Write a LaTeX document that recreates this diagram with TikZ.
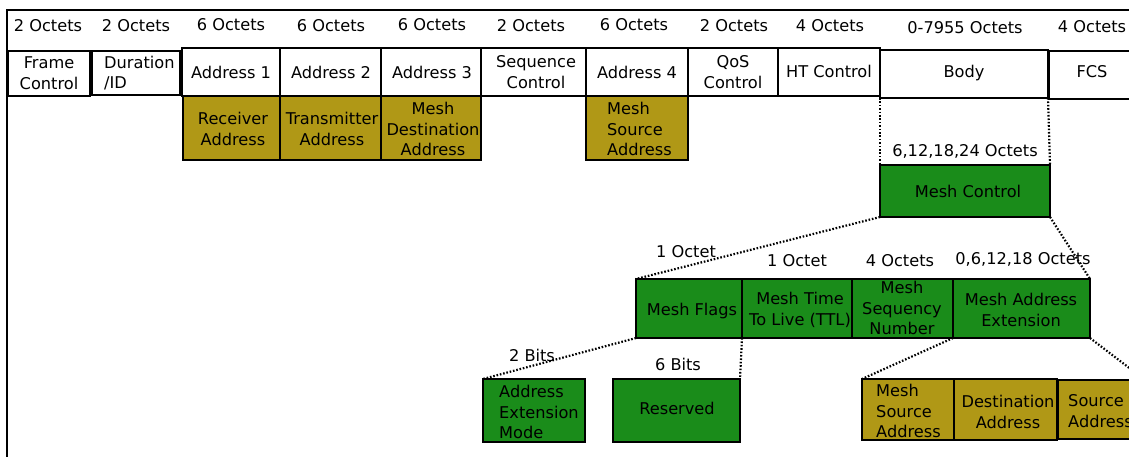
\documentclass[tikz,border=0pt]{standalone}
\usepackage{fontspec}
\setmainfont{DejaVu Sans}
\definecolor{goldfield}{RGB}{176,152,22}
\definecolor{greenfield}{RGB}{26,140,26}
\tikzset{
  field/.style={draw=black, line width=2.8pt, inner sep=0pt, outer sep=0pt, fill=white},
  goldbox/.style={field, fill=goldfield},
  greenbox/.style={field, fill=greenfield},
  txt/.style={font=\fontsize{16.2}{20.5}\selectfont, inner sep=0pt, align=center},
  lefttxt/.style={txt, align=left, anchor=west},
  expand/.style={line width=2.2pt, dash pattern=on 1.6pt off 1.8pt},
}
\begin{document}
\begin{tikzpicture}[x=1pt,y=-1pt]
\useasboundingbox (0,0) rectangle (1129,456);
\clip (0,0) rectangle (1129,456);

% outer frame
\coordinate (ftl) at (7,10);
\coordinate (ftr) at (1135,10);
\coordinate (fbl) at (7,460);
\draw[line width=2.2pt] (ftr) -- (ftl) -- (fbl);

% field sizes
\node[txt] (s1) at (48,26) {2 Octets};
\node[txt] (s2) at (136,26) {2 Octets};
\node[txt] (s3) at (231,25) {6 Octets};
\node[txt] (s4) at (331,26) {6 Octets};
\node[txt] (s5) at (432,25) {6 Octets};
\node[txt] (s6) at (531,26) {2 Octets};
\node[txt] (s7) at (634,25) {6 Octets};
\node[txt] (s8) at (734,26) {2 Octets};
\node[txt] (s9) at (830,26) {4 Octets};
\node[txt] (s10) at (965,28) {0-7955 Octets};
\node[txt] (s11) at (1092,27) {4 Octets};

% MAC header fields
\node[field, minimum width=82pt, minimum height=45pt] (fc) at (49,73.5) {};
\node[txt] at (49,73) {Frame\\Control};
\node[field, minimum width=88pt, minimum height=44pt] (dur) at (136,73) {};
\node[lefttxt] at (104,73) {Duration\\/ID};
\node[field, minimum width=98pt, minimum height=48pt] (a1) at (231,72) {};
\node[txt] at (231,72) {Address 1};
\node[field, minimum width=101pt, minimum height=48pt] (a2) at (330.5,72) {};
\node[txt] at (331,72) {Address 2};
\node[field, minimum width=100pt, minimum height=48pt] (a3) at (431,72) {};
\node[txt] at (432,72) {Address 3};
\node[field, minimum width=105pt, minimum height=48pt] (seq) at (533.5,72) {};
\node[txt] at (536,72) {Sequence\\Control};
\node[field, minimum width=102pt, minimum height=48pt] (a4) at (637,72) {};
\node[txt] at (637,72) {Address 4};
\node[field, minimum width=90pt, minimum height=48pt] (qos) at (733,72) {};
\node[txt] at (733,72) {QoS\\Control};
\node[field, minimum width=102pt, minimum height=48pt] (ht) at (829,72) {};
\node[txt] at (829,71) {HT Control};
\node[field, minimum width=168pt, minimum height=48pt] (body) at (964,74) {};
\node[txt] at (964,73) {Body};
\node[field, minimum width=91pt, minimum height=48pt] (fcs) at (1094.5,75) {};
\node[txt] at (1092,72) {FCS};

% address meanings
\node[goldbox, minimum width=97pt, minimum height=64pt] (ra) at (231.5,128) {};
\node[txt] at (233,129) {Receiver\\Address};
\node[goldbox, minimum width=101pt, minimum height=64pt] (ta) at (330.5,128) {};
\node[txt] at (332,129) {Transmitter\\Address};
\node[goldbox, minimum width=100pt, minimum height=64pt] (mda) at (431,128) {};
\node[txt] at (433,129) {Mesh\\Destination\\Address};
\node[goldbox, minimum width=102pt, minimum height=64pt] (msa) at (637,128) {};
\node[lefttxt] at (607,129) {Mesh\\Source\\Address};

% mesh control
\node[txt] (mcsize) at (965,151) {6,12,18,24 Octets};
\node[greenbox, minimum width=170pt, minimum height=52pt] (mc) at (965,191) {};
\node[txt] at (968,191) {Mesh Control};
\draw[expand] (body.south west) -- (mc.north west);
\draw[expand] (body.south east) -- (mc.north east);

% mesh control subfields
\node[txt] (mfsize) at (686,252) {1 Octet};
\node[txt] (ttlsize) at (797,261) {1 Octet};
\node[txt] (msnsize) at (900,261) {4 Octets};
\node[txt] (maesize) at (1023,259) {0,6,12,18 Octets};
\node[greenbox, minimum width=106pt, minimum height=59pt] (mf) at (689,308.5) {};
\node[txt] at (692,311) {Mesh Flags};
\node[greenbox, minimum width=110pt, minimum height=59pt] (ttl) at (797,308.5) {};
\node[txt] at (800,310) {Mesh Time\\To Live (TTL)};
\node[greenbox, minimum width=101pt, minimum height=59pt] (msn) at (902.5,308.5) {};
\node[txt] at (902,308) {Mesh\\Sequency\\Number};
\node[greenbox, minimum width=137pt, minimum height=59pt] (mae) at (1021.5,308.5) {};
\node[txt] at (1021,310) {Mesh Address\\Extension};
\draw[expand] (mc.south west) -- (mf.north west);
\draw[expand] (mc.south east) -- (mae.north east);

% mesh flags subfields
\node[txt] (aemsize) at (532,355) {2 Bits};
\node[txt] (ressize) at (678,364) {6 Bits};
\node[greenbox, minimum width=102pt, minimum height=63pt] (aem) at (534,410.5) {};
\node[lefttxt] at (499,412) {Address\\Extension\\Mode};
\node[greenbox, minimum width=127pt, minimum height=63pt] (res) at (676.5,410.5) {};
\node[txt] at (677,408) {Reserved};
\draw[expand] (mf.south west) -- (aem.north west);
\draw[expand] (ttl.south west) -- (res.north east);

% address extension subfields
\node[goldbox, minimum width=92pt, minimum height=61pt] (msa2) at (908,409.5) {};
\node[lefttxt] at (876,411) {Mesh\\Source\\Address};
\node[goldbox, minimum width=103pt, minimum height=61pt] (da) at (1005.5,409.5) {};
\node[txt] at (1008,412) {Destination\\Address};
\node[goldbox, minimum width=87pt, minimum height=59pt] (sa) at (1101.5,409.5) {};
\node[lefttxt] at (1068,411) {Source\\Address};
\draw[expand] (msn.south east) -- (msa2.north west);
\draw[expand] (mae.south east) -- (sa.north east);
\end{tikzpicture}
\end{document}
